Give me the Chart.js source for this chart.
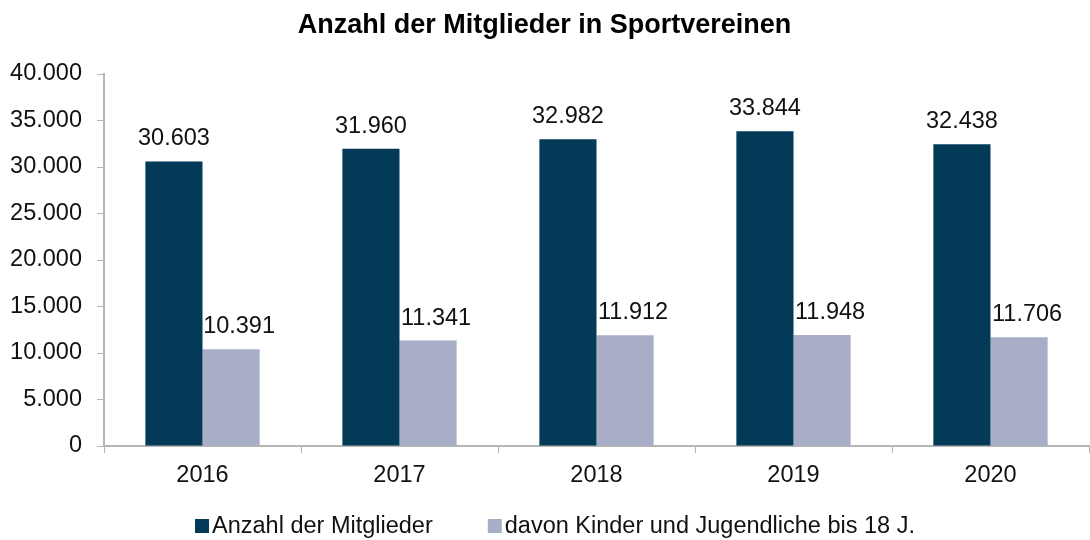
<!DOCTYPE html>
<html>
<head>
<meta charset="utf-8">
<script src="https://cdn.jsdelivr.net/npm/chart.js@4/dist/chart.umd.min.js"></script>
<style>
  html, body { margin: 0; padding: 0; background: #fff; }
  #wrap { width: 1090px; height: 540px; }
</style>
</head>
<body>
<div id="wrap"><canvas id="myChart" width="1090" height="540"></canvas></div>
<script>
const years = ['2016', '2017', '2018', '2019', '2020']
const members = [30603, 31960, 32982, 33844, 32438]
const youth = [10391, 11341, 11912, 11948, 11706]
const seriesNames = ['Anzahl der Mitglieder', 'davon Kinder und Jugendliche bis 18 J.']
const colors = ['#023a58', '#a9aec8']

const font = "'Liberation Sans', Arial, sans-serif"
const fontSize = 23.5
const fmt = v => String(v).replace(/\B(?=(\d{3})+(?!\d))/g, '.')

// value labels above each bar
const barLabels = {
  id: 'barLabels',
  afterDatasetsDraw(chart) {
    const ctx = chart.ctx
    ctx.save()
    ctx.font = fontSize + 'px ' + font
    ctx.fillStyle = '#111'
    ctx.textAlign = 'center'
    ctx.textBaseline = 'alphabetic'
    chart.data.datasets.forEach((ds, i) => {
      const meta = chart.getDatasetMeta(i)
      meta.data.forEach((bar, j) => {
        const dx = i === 1 ? 8 : 0
        ctx.fillText(fmt(ds.data[j]), bar.x + dx, bar.y - 16)
      })
    })
    ctx.restore()
  }
}

// simple legend below the axis, small squares close to the text
const bottomLegend = {
  id: 'bottomLegend',
  afterDraw(chart) {
    const ctx = chart.ctx
    const box = 14
    const gap = 3
    const itemGap = 55
    ctx.save()
    ctx.font = fontSize + 'px ' + font
    ctx.textBaseline = 'middle'
    ctx.textAlign = 'left'
    const widths = chart.data.datasets.map(ds => box + gap + ctx.measureText(ds.label).width)
    const total = widths.reduce((a, b) => a + b, 0) + itemGap * (widths.length - 1)
    let x = chart.width / 2 + 10 - total / 2
    const y = chart.scales.x.bottom + 37
    chart.data.datasets.forEach((ds, i) => {
      ctx.fillStyle = ds.backgroundColor
      ctx.fillRect(x, y - box / 2, box, box)
      ctx.fillStyle = '#111'
      ctx.fillText(ds.label, x + box + gap, y + 1)
      x += widths[i] + itemGap
    })
    ctx.restore()
  }
}

const config = {
  type: 'bar',
  data: {
    labels: years,
    datasets: [
      {
        label: seriesNames[0],
        data: members,
        backgroundColor: colors[0],
        borderWidth: 0
      },
      {
        label: seriesNames[1],
        data: youth,
        backgroundColor: colors[1],
        borderWidth: 0
      }
    ]
  },
  options: {
    responsive: false,
    animation: false,
    barPercentage: 1,
    categoryPercentage: 0.58,
    layout: { padding: { left: 0, right: 1, top: 0, bottom: 51 } },
    plugins: {
      title: {
        display: true,
        text: 'Anzahl der Mitglieder in Sportvereinen',
        color: '#000',
        font: { family: font, size: 27, weight: 'bold' },
        padding: { top: 9, bottom: 32.6 }
      },
      legend: { display: false },
      tooltip: { enabled: false }
    },
    scales: {
      x: {
        afterFit: scale => { scale.height = 43 },
        grid: {
          display: true,
          drawOnChartArea: false,
          drawTicks: true,
          tickLength: 7,
          color: '#b5b5b5',
          offset: true
        },
        border: { color: '#b5b5b5', width: 2 },
        ticks: {
          color: '#111',
          font: { family: font, size: fontSize },
          padding: 8
        }
      },
      y: {
        min: 0,
        max: 40000,
        afterFit: scale => { scale.width = 104 },
        grid: {
          display: true,
          drawOnChartArea: false,
          drawTicks: true,
          tickLength: 7,
          color: '#b5b5b5'
        },
        border: { color: '#b5b5b5', width: 2 },
        ticks: {
          stepSize: 5000,
          color: '#111',
          font: { family: font, size: fontSize },
          padding: 15,
          callback: v => fmt(v)
        }
      }
    }
  },
  plugins: [barLabels, bottomLegend]
}

const myChart = new Chart(document.getElementById('myChart'), config)
</script>
</body>
</html>
